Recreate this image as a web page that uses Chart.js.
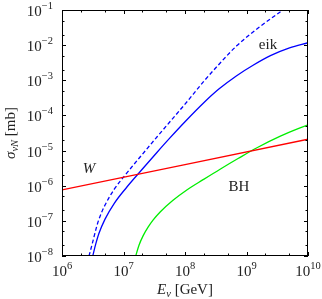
<!DOCTYPE html>
<html>
<head>
<meta charset="utf-8">
<script src="https://cdn.jsdelivr.net/npm/chart.js@4"></script>
<style>
  html, body { margin: 0; padding: 0; background: #fff; }
  #wrap { width: 322px; height: 299px; }
</style>
</head>
<body>
<div id="wrap"><canvas id="chart"></canvas></div>
<script>
// W-boson line
const wEnergy = [1e6, 1e10];
const wSigma = [7.6e-7, 2.1e-5];

// eikonal, solid
const eikEnergy = [3.16e6, 3.55e6, 3.98e6, 5.01e6, 7.08e6, 1.12e7, 1.95e7, 3.55e7, 5.69e7, 1e8, 2.0e8, 3.55e8, 6.92e8, 1.26e9, 2.45e9, 5.01e9, 1e10];
const eikSigma = [1e-8, 2.24e-8, 4.37e-8, 1.12e-7, 3.16e-7, 8.91e-7, 2.75e-6, 9.12e-6, 2.29e-5, 6.61e-5, 2.26e-4, 5.62e-4, 1.35e-3, 2.63e-3, 5.01e-3, 8.32e-3, 1.17e-2];

// eikonal, dashed
const eikDashEnergy = [2.75e6, 3.16e6, 3.55e6, 3.98e6, 5.01e6, 7.08e6, 1.12e7, 1.95e7, 3.55e7, 5.69e7, 1e8, 2e8, 3.55e8, 6.92e8, 1.58e9, 3.98e9, 5.01e9];
const eikDashSigma = [1e-8, 2.51e-8, 5.62e-8, 1.10e-7, 2.82e-7, 7.94e-7, 2.24e-6, 7.24e-6, 2.51e-5, 6.61e-5, 2.09e-4, 9.12e-4, 2.82e-3, 9.55e-3, 3.16e-2, 0.102, 0.135];

// black hole
const bhEnergy = [1.58e7, 1.78e7, 2.09e7, 2.51e7, 3.02e7, 3.98e7, 6.31e7, 1.07e8, 2e8, 3.72e8, 7.41e8, 1.48e9, 3.55e9, 1e10];
const bhSigma = [1e-8, 2.0e-8, 3.8e-8, 6.61e-8, 1.05e-7, 1.82e-7, 3.8e-7, 7.59e-7, 1.51e-6, 2.95e-6, 6.03e-6, 1.2e-5, 2.57e-5, 5.43e-5];

// tick labels (powers of ten)
const xTickExps = [6, 7, 8, 9, 10];
const yTickExps = [-8, -7, -6, -5, -4, -3, -2, -1];
const minorSteps = [2, 5];

function toPoints(xs, ys) {
    return xs.map((x, i) => ({ x: x, y: ys[i] }));
}

const serif = '"Liberation Serif", "DejaVu Serif", serif';

// draws the frame, inward ticks and all text
const decorations = {
    id: 'decorations',
    afterDatasetsDraw(chart) {
        const { ctx, chartArea: a, scales } = chart;
        const x = scales.x, y = scales.y;
        ctx.save();
        ctx.strokeStyle = '#000';
        ctx.lineWidth = 1;
        ctx.strokeRect(a.left + 0.5, a.top + 0.5, a.right - a.left - 1, a.bottom - a.top - 1);

        // x ticks
        ctx.beginPath();
        xTickExps.forEach((e, i) => {
            const v = Math.pow(10, e);
            const px = Math.round(x.getPixelForValue(v)) + 0.5;
            ctx.moveTo(px, a.bottom); ctx.lineTo(px, a.bottom - 4);
            ctx.moveTo(px, a.top); ctx.lineTo(px, a.top + 4);
            if (i < xTickExps.length - 1) {
                minorSteps.forEach(m => {
                    const mx = Math.round(x.getPixelForValue(m * v)) + 0.5;
                    ctx.moveTo(mx, a.bottom); ctx.lineTo(mx, a.bottom - 2.5);
                    ctx.moveTo(mx, a.top); ctx.lineTo(mx, a.top + 2.5);
                });
            }
        });
        // y ticks
        yTickExps.forEach((e, i) => {
            const v = Math.pow(10, e);
            const py = Math.round(y.getPixelForValue(v)) + 0.5;
            ctx.moveTo(a.left, py); ctx.lineTo(a.left + 4, py);
            ctx.moveTo(a.right, py); ctx.lineTo(a.right - 4, py);
            if (i < yTickExps.length - 1) {
                minorSteps.forEach(m => {
                    const my = Math.round(y.getPixelForValue(m * v)) + 0.5;
                    ctx.moveTo(a.left, my); ctx.lineTo(a.left + 2.5, my);
                    ctx.moveTo(a.right, my); ctx.lineTo(a.right - 2.5, my);
                });
            }
        });
        ctx.stroke();

        ctx.fillStyle = '#222';
        ctx.textBaseline = 'alphabetic';
        ctx.textAlign = 'left';
        const baseFont = '15px ' + serif;
        const expFont = '10.5px ' + serif;

        // x tick labels
        xTickExps.forEach(e => {
            const px = x.getPixelForValue(Math.pow(10, e));
            ctx.font = baseFont;
            const wb = ctx.measureText('10').width;
            ctx.font = expFont;
            const we = ctx.measureText(String(e)).width;
            const start = px - (wb + we) / 2;
            ctx.font = baseFont;
            ctx.fillText('10', start, 276);
            ctx.font = expFont;
            ctx.fillText(String(e), start + wb, 269);
        });

        // y tick labels
        yTickExps.forEach(e => {
            const py = y.getPixelForValue(Math.pow(10, e));
            const exp = '\u2212' + Math.abs(e);
            ctx.font = expFont;
            const we = ctx.measureText(exp).width;
            ctx.font = baseFont;
            const wb = ctx.measureText('10').width;
            const start = 53 - we - wb;
            ctx.fillText('10', start, py + 6);
            ctx.font = expFont;
            ctx.fillText(exp, start + wb, py - 1);
        });

        // x axis title: E_nu [GeV]
        drawParts(ctx, [
            { t: 'E', f: 'italic 15px ' + serif, dy: 0 },
            { t: '\u03bd', f: 'italic 10.5px ' + serif, dy: 3 },
            { t: ' [GeV]', f: '15px ' + serif, dy: 0 }
        ], 185, 294);

        // y axis title: sigma_nuN [mb]
        ctx.save();
        ctx.translate(15, (a.top + a.bottom) / 2);
        ctx.rotate(-Math.PI / 2);
        drawParts(ctx, [
            { t: '\u03c3', f: 'italic 15px ' + serif, dy: 0 },
            { t: '\u03bdN', f: 'italic 10.5px ' + serif, dy: 3 },
            { t: ' [mb]', f: '15px ' + serif, dy: 0 }
        ], 0, 0);
        ctx.restore();

        // curve labels
        ctx.textAlign = 'center';
        ctx.textBaseline = 'middle';
        ctx.font = '15px ' + serif;
        ctx.fillText('eik', 268, 45);
        ctx.fillText('BH', 239, 187);
        ctx.font = 'italic 15px ' + serif;
        ctx.fillText('W', 89, 169);
        ctx.restore();
    }
};

function drawParts(ctx, parts, cx, baseline) {
    let total = 0;
    parts.forEach(p => { ctx.font = p.f; p.w = ctx.measureText(p.t).width; total += p.w; });
    let pos = cx - total / 2;
    parts.forEach(p => {
        ctx.font = p.f;
        ctx.fillText(p.t, pos, baseline + p.dy);
        pos += p.w;
    });
}

const lineStyle = { pointRadius: 0, borderWidth: 1.3, fill: false, cubicInterpolationMode: 'monotone' };

new Chart(document.getElementById('chart'), {
    type: 'line',
    data: {
        datasets: [
            Object.assign({ label: 'W', data: toPoints(wEnergy, wSigma), borderColor: '#ff0000' }, lineStyle),
            Object.assign({ label: 'BH', data: toPoints(bhEnergy, bhSigma), borderColor: '#00ee00' }, lineStyle),
            Object.assign({ label: 'eik dashed', data: toPoints(eikDashEnergy, eikDashSigma), borderColor: '#0000ff', borderDash: [4, 2.5] }, lineStyle),
            Object.assign({ label: 'eik', data: toPoints(eikEnergy, eikSigma), borderColor: '#0000ff' }, lineStyle)
        ]
    },
    options: {
        responsive: true,
        maintainAspectRatio: false,
        animation: false,
        layout: { padding: { left: 62, right: 14, top: 10, bottom: 43 } },
        plugins: { legend: { display: false }, tooltip: { enabled: false } },
        scales: {
            x: { type: 'logarithmic', min: 1e6, max: 1e10, display: false },
            y: { type: 'logarithmic', min: 1e-8, max: 1e-1, display: false }
        }
    },
    plugins: [decorations]
});
</script>
</body>
</html>
